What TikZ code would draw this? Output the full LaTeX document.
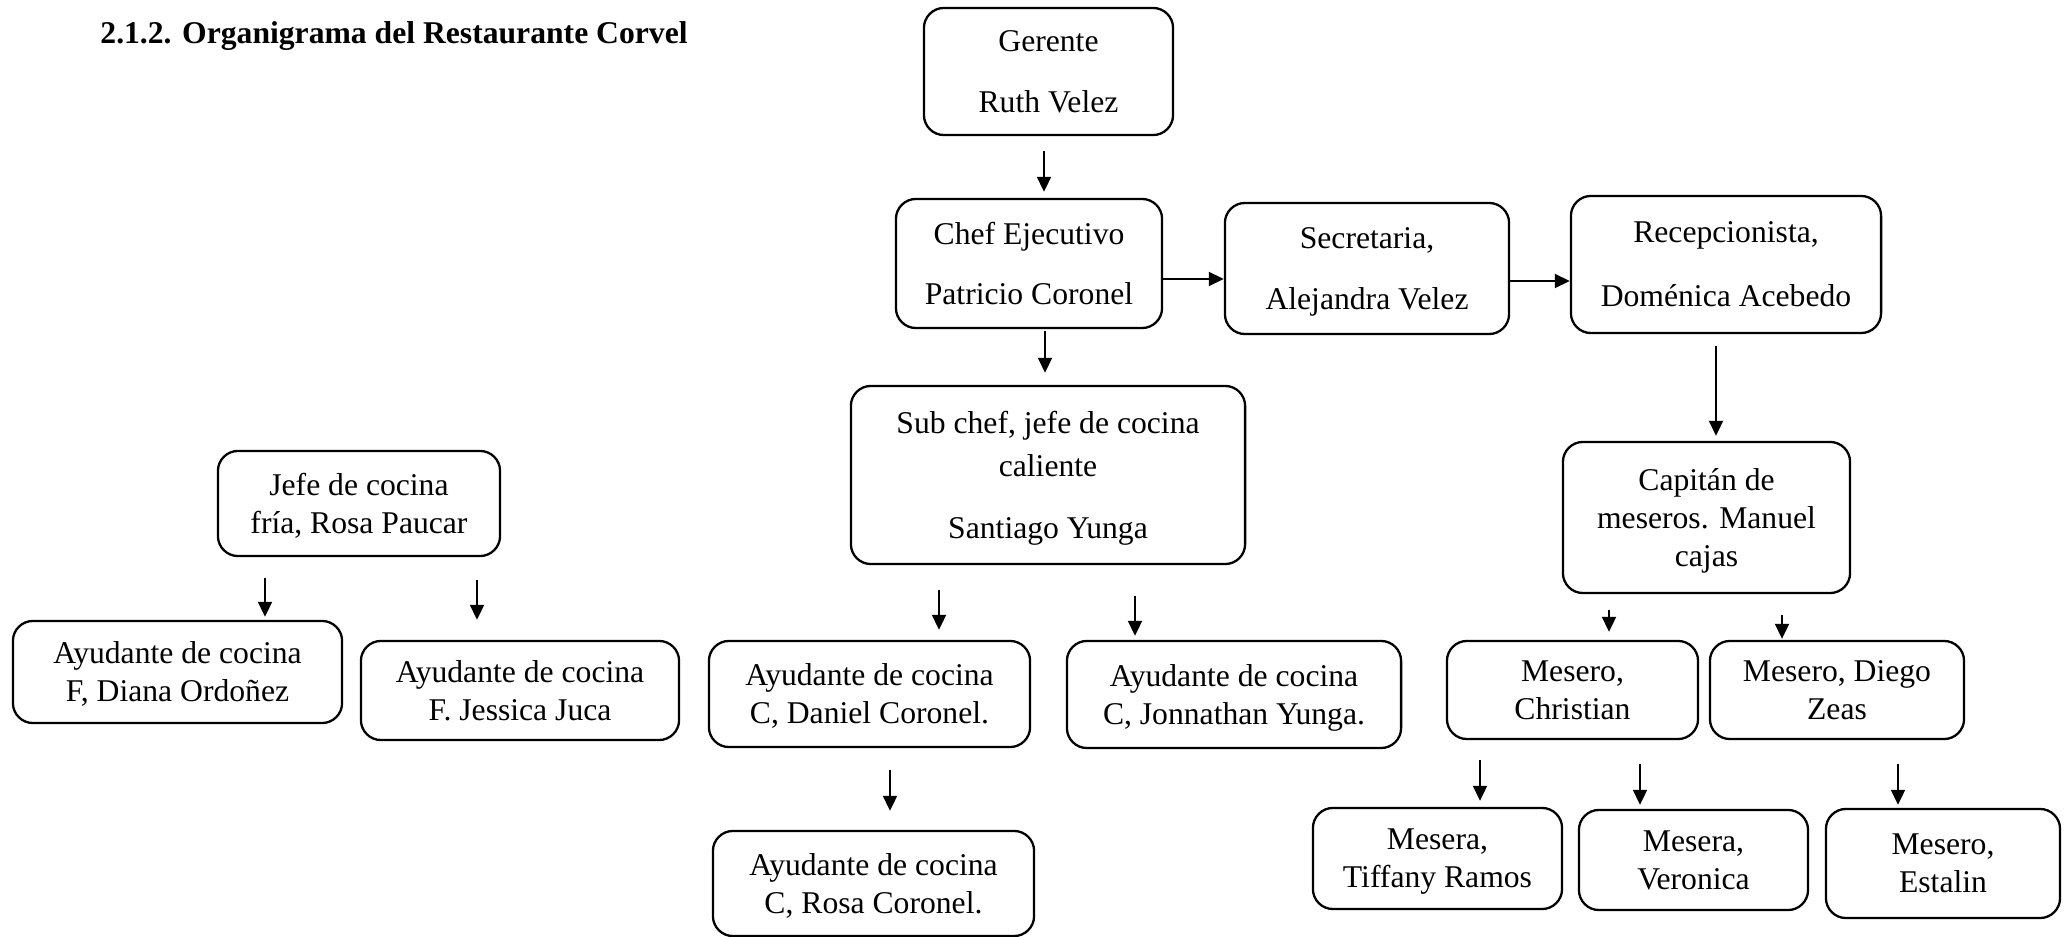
\documentclass[tikz,border=0pt]{standalone}
\usepackage{fontspec}
\setmainfont{Liberation Serif}
\usetikzlibrary{arrows.meta}

\tikzset{
	box/.style={draw, rounded corners=2mm, line width=.65pt, align=center, inner sep=0pt, text depth=-2pt, font=\fontsize{9}{10.8}\selectfont},
	sz/.style 2 args={minimum width=#1, minimum height=#2},
	arr/.style={-{Triangle[length=1.5mm,width=1.4mm]}, line width=.55pt}
}

\begin{document}
\begin{tikzpicture}[x=0.01cm, y=-0.01cm]
		\useasboundingbox (0,0) rectangle (2072,937);
		\node[anchor=base west, font=\bfseries\fontsize{9}{10.8}\selectfont] (titulo) at (88,44) {2.1.2. Organigrama del Restaurante Corvel};
		% direccion
		\node[box, sz={2.49cm}{1.27cm}] (gerente) at (1048.5,71.5) {Gerente\\[6.6pt]Ruth Velez};
		\node[box, sz={2.66cm}{1.29cm}] (chef) at (1029,263.5) {Chef Ejecutivo\\[6.3pt]Patricio Coronel};
		\node[box, sz={2.84cm}{1.31cm}] (secretaria) at (1367,268.5) {Secretaria,\\[6.8pt]Alejandra Velez};
		\node[box, sz={3.10cm}{1.37cm}] (recep) at (1726,264.5) {Recepcionista,\\[7.4pt]Doménica Acebedo};
		\node[box, sz={2.87cm}{1.51cm}] (capitan) at (1706.5,517.5) {Capitán de\\meseros. Manuel\\cajas};
		\node[box, sz={3.94cm}{1.78cm}] (subchef) at (1048,475) {Sub chef, jefe de cocina\\[1.4pt]caliente\\[6.8pt]Santiago Yunga};
		% cocina
		\node[box, sz={2.82cm}{1.05cm}] (jefefria) at (359,503.5) {Jefe de cocina\\fría, Rosa Paucar};
		\node[box, sz={3.29cm}{1.02cm}] (diana) at (177.5,672) {Ayudante de cocina\\F, Diana Ordoñez};
		\node[box, sz={3.18cm}{0.99cm}] (jessica) at (520,690.5) {Ayudante de cocina\\F. Jessica Juca};
		\node[box, sz={3.21cm}{1.06cm}] (daniel) at (869.5,694) {Ayudante de cocina\\C, Daniel Coronel.};
		\node[box, sz={3.34cm}{1.07cm}] (jonnathan) at (1234,694.5) {Ayudante de cocina\\C, Jonnathan Yunga.};
		\node[box, sz={3.21cm}{1.05cm}] (rosa) at (873.5,883.5) {Ayudante de cocina\\C, Rosa Coronel.};
		% salon
		\node[box, sz={2.51cm}{0.98cm}] (christian) at (1572.5,690) {Mesero,\\Christian};
		\node[box, sz={2.54cm}{0.98cm}] (diego) at (1837,690) {Mesero, Diego\\Zeas};
		\node[box, sz={2.49cm}{1.01cm}] (tiffany) at (1437.5,858.5) {Mesera,\\Tiffany Ramos};
		\node[box, sz={2.29cm}{1.00cm}] (veronica) at (1693.5,860) {Mesera,\\Veronica};
		\node[box, sz={2.34cm}{1.09cm}] (estalin) at (1943,863.5) {Mesero,\\Estalin};

		\draw[arr] (chef.east |- 0,279) -- (secretaria.west |- 0,279);
		\draw[arr] (secretaria.east |- 0,281) -- (recep.west |- 0,281);
		\foreach \src/\dst/\px/\gapA/\gapB in {
			gerente/chef/1044/1.5/0.6,
			chef/subchef/1045/0.2/1.2,
			recep/capitan/1716/1.2/0.5,
			jefefria/diana/265/2.1/0.3,
			jefefria/jessica/477/2.3/2.0,
			subchef/daniel/939/2.5/1.0,
			subchef/jonnathan/1135/3.1/0.4,
			daniel/rosa/890/2.2/1.9,
			capitan/christian/1609/1.6/0.8,
			capitan/diego/1782/2.1/0.1,
			christian/tiffany/1480/2.0/0.6,
			christian/veronica/1640/2.4/0.4,
			diego/estalin/1898/2.4/0.3
		}{
			\draw[arr, shorten <=\gapA mm, shorten >=\gapB mm] (\src.south -| \px,0) -- (\dst.north -| \px,0);
		}
\end{tikzpicture}
\end{document}
